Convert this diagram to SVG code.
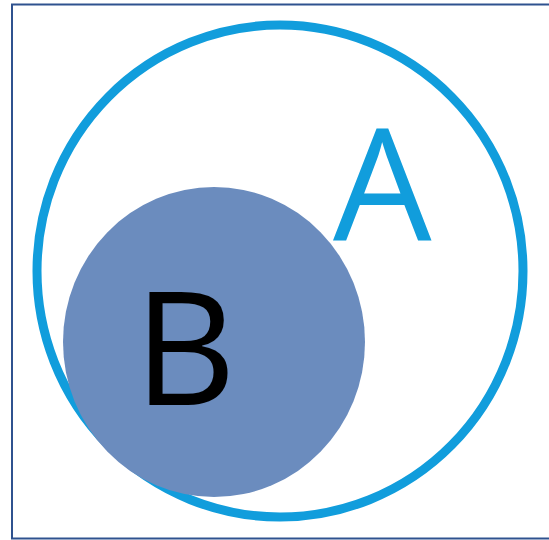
<svg xmlns="http://www.w3.org/2000/svg" width="549" height="540" viewBox="0 0 549 540">
<style>
.lbl{font-family:"Open Sans","Liberation Sans",sans-serif;}
</style>
<rect x="0" y="0" width="549" height="540" fill="#ffffff"/>
<rect x="12" y="4.5" width="545" height="534" fill="none" stroke="#2F528F" stroke-width="2"/>
<g id="A">
<ellipse cx="280" cy="271" rx="243" ry="246" fill="none" stroke="#119DDC" stroke-width="9"/>
<text class="lbl" x="333" y="240" font-size="156" fill="#119DDC">A</text>
</g>
<g id="B">
<ellipse cx="214" cy="342" rx="151" ry="155" fill="#6B8CBE"/>
<text class="lbl" x="134" y="405" font-size="158" fill="#000000">B</text>
</g>
</svg>
